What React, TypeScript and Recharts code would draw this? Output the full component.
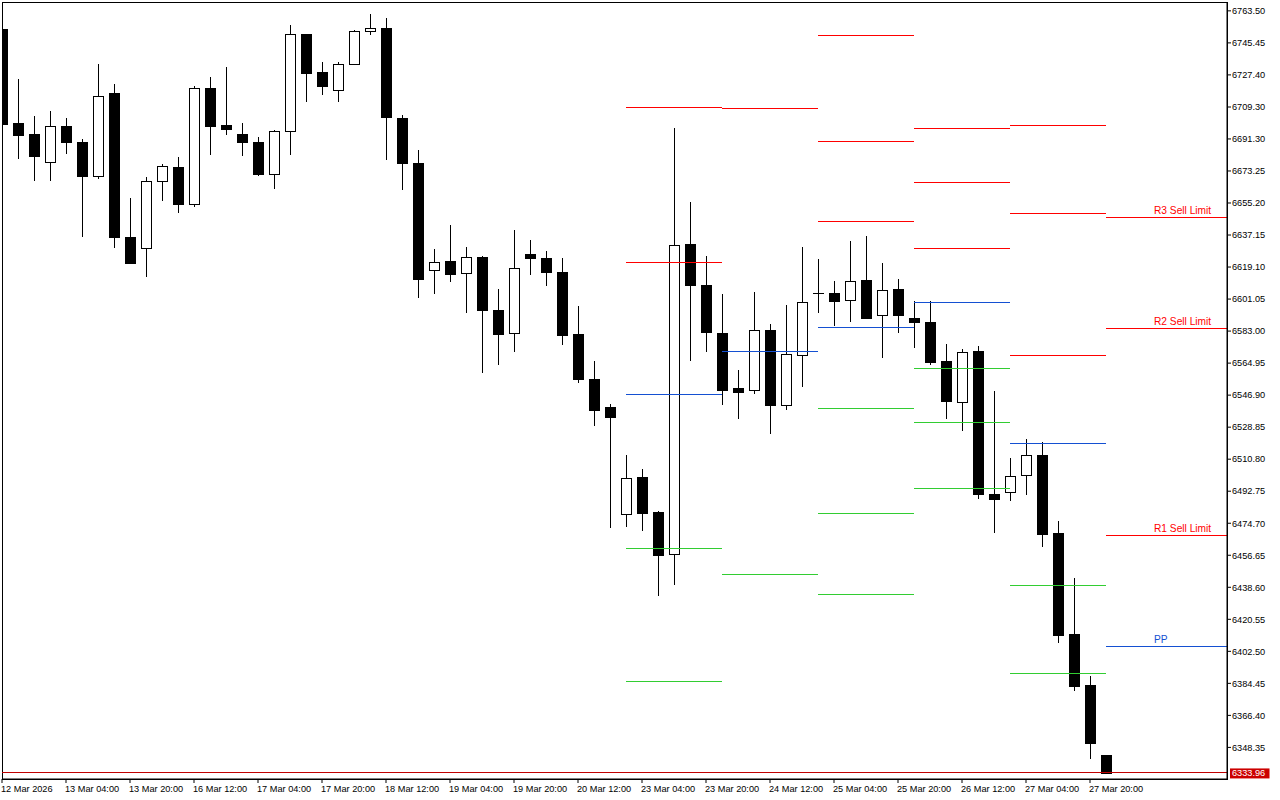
import { Bar, ComposedChart, ReferenceArea, ReferenceLine, XAxis, YAxis } from "recharts";

const FONT = '"Liberation Sans", Arial, sans-serif';
const RED = "#ff0000";
const BLUE = "#1450d2";
const GREEN = "#32cd32";
const PRICE_RED = "#c00000";

// H4 bars, oldest first (bar 0 is the half-hidden one at the left edge)
const opens = [
  6753.44, 6700.44, 6694.23, 6678.05, 6698.74, 6689.72, 6670.16, 6717.35, 6636.16, 6629.78,
  6667.34, 6675.63, 6654.37, 6720.17, 6699.31, 6694.23, 6689.72, 6671.51, 6695.75, 6750.62,
  6729.19, 6718.87, 6733.53, 6752.14, 6754.0, 6703.25, 6677.88, 6617.38, 6622.62, 6615.69,
  6624.88, 6594.82, 6581.85, 6626.57, 6624.31, 6616.42, 6581.46, 6556.09, 6540.3, 6479.8,
  6500.83, 6481.09, 6457.24, 6632.21, 6609.09, 6582.02, 6551.01, 6549.72, 6583.72, 6541.26,
  6569.45, 6604.58, 6604.58, 6600.46, 6611.74, 6592.01, 6606.67, 6590.48, 6588.06, 6566.07,
  6543.29, 6571.71, 6491.24, 6492.2, 6501.79, 6513.06, 6469.08, 6412.3, 6383.55, 6344.08,
];
const highs = [
  6753.44, 6725.25, 6704.38, 6707.2, 6703.25, 6691.41, 6733.7, 6722.43, 6658.15, 6669.99,
  6676.92, 6681.26, 6721.3, 6726.37, 6732.01, 6700.44, 6692.54, 6696.49, 6755.69, 6750.62,
  6734.83, 6734.83, 6752.87, 6761.9, 6759.64, 6704.95, 6685.21, 6629.39, 6642.92, 6630.52,
  6625.44, 6606.83, 6640.1, 6634.46, 6628.26, 6624.31, 6597.25, 6566.24, 6541.99, 6513.23,
  6505.34, 6481.66, 6697.62, 6655.89, 6625.44, 6604.02, 6561.33, 6605.14, 6587.1, 6597.81,
  6630.52, 6623.75, 6611.35, 6633.9, 6636.72, 6621.49, 6612.47, 6600.07, 6600.07, 6575.82,
  6573.0, 6574.69, 6549.32, 6511.54, 6522.26, 6520.39, 6476.02, 6443.88, 6388.79, 6344.08,
];
const lows = [
  6699.48, 6680.3, 6667.9, 6667.9, 6683.12, 6636.32, 6669.03, 6630.12, 6621.1, 6614.33,
  6656.62, 6649.86, 6653.24, 6682.56, 6693.84, 6682.0, 6670.72, 6663.39, 6682.56, 6712.45,
  6716.39, 6712.45, 6733.53, 6750.22, 6679.74, 6662.83, 6602.49, 6604.75, 6611.51, 6594.03,
  6560.2, 6564.71, 6572.04, 6614.9, 6609.26, 6575.99, 6554.56, 6530.32, 6472.81, 6473.37,
  6471.11, 6434.46, 6440.66, 6566.97, 6572.04, 6542.16, 6534.27, 6548.36, 6525.64, 6539.34,
  6552.31, 6594.03, 6586.7, 6588.96, 6590.65, 6568.66, 6582.76, 6574.3, 6564.71, 6534.27,
  6527.5, 6489.16, 6469.99, 6487.58, 6491.41, 6462.09, 6407.62, 6380.89, 6342.55, 6333.96,
];
const closes = [
  6699.48, 6693.27, 6681.43, 6698.74, 6689.33, 6670.16, 6715.49, 6635.76, 6621.66, 6667.73,
  6676.19, 6654.37, 6720.17, 6698.74, 6696.66, 6689.33, 6671.28, 6695.92, 6750.62, 6728.23,
  6720.9, 6733.7, 6752.31, 6753.83, 6703.42, 6677.49, 6612.64, 6621.89, 6614.9, 6624.71,
  6595.16, 6581.63, 6618.5, 6623.92, 6616.03, 6581.07, 6556.26, 6538.78, 6534.83, 6500.1,
  6480.7, 6457.02, 6631.48, 6608.7, 6582.76, 6550.05, 6548.93, 6583.72, 6541.6, 6570.01,
  6599.33, 6604.58, 6599.68, 6611.18, 6590.65, 6606.1, 6592.34, 6588.39, 6565.84, 6543.85,
  6571.14, 6491.41, 6488.59, 6501.11, 6513.06, 6468.86, 6411.91, 6383.15, 6351.01, 6333.96,
];

const xTickBars = [0, 4, 8, 12, 16, 20, 24, 28, 32, 36, 40, 44, 48, 52, 56, 60, 64, 68];
const xTickLabels = [
  "12 Mar 2026", "13 Mar 04:00", "13 Mar 20:00", "16 Mar 12:00", "17 Mar 04:00", "17 Mar 20:00",
  "18 Mar 12:00", "19 Mar 04:00", "19 Mar 20:00", "20 Mar 12:00", "23 Mar 04:00", "23 Mar 20:00",
  "24 Mar 12:00", "25 Mar 04:00", "25 Mar 20:00", "26 Mar 12:00", "27 Mar 04:00", "27 Mar 20:00",
];

const yTicks = [
  6763.5, 6745.45, 6727.4, 6709.3, 6691.3, 6673.25, 6655.2, 6637.15, 6619.1, 6601.05, 6583.0, 6564.95,
  6546.9, 6528.85, 6510.8, 6492.75, 6474.7, 6456.65, 6438.6, 6420.55, 6402.5, 6384.45, 6366.4, 6348.35,
];

// daily pivot levels, one column per day (bar where the day starts / ends)
const dayStart = [39, 45, 51, 57, 63, 69];
const dayEnd = [45, 51, 57, 63, 69, 76.5625];
const r3 = [null, null, 6749.88, 6697.44, 6699.14, 6647.26];
const r2 = [6709.28, null, 6690.11, 6667.0, 6649.52, 6584.67];
const r1 = [6621.89, 6708.72, 6645.0, 6629.78, 6569.45, 6467.95];
const pp = [6547.46, 6571.7, 6585.24, 6599.33, 6519.83, 6405.37];
const s1 = [6460.62, 6445.96, 6539.56, 6562.12, 6439.76, null];
const s2 = [6385.63, null, 6480.36, 6531.67, 6390.14, null];
const s3 = [null, null, 6434.69, 6494.45, null, null];
const todayLabels: Record<string, string> = {
  R3: "R3 Sell Limit",
  R2: "R2 Sell Limit",
  R1: "R1 Sell Limit",
  PP: "PP",
};

const lastPrice = 6333.96;

const X_DOMAIN: [number, number] = [0, 76.5625];
const Y_DOMAIN: [number, number] = [6330.54, 6768.49];

const candles = opens.map((open, i) => ({
  bar: i,
  open,
  high: highs[i],
  low: lows[i],
  close: closes[i],
}));

const levels = [
  { name: "R3", color: RED, values: r3 },
  { name: "R2", color: RED, values: r2 },
  { name: "R1", color: RED, values: r1 },
  { name: "PP", color: BLUE, values: pp },
  { name: "S1", color: GREEN, values: s1 },
  { name: "S2", color: GREEN, values: s2 },
  { name: "S3", color: GREEN, values: s3 },
];

const segments = levels.flatMap((lv) =>
  lv.values.map((v, d) => ({
    key: `${lv.name}-${d}`,
    name: lv.name,
    color: lv.color,
    value: v,
    from: dayStart[d],
    to: dayEnd[d],
    today: d === dayStart.length - 1,
  })),
).filter((s) => s.value != null);

function Candle(props: any) {
  const { x, y, width, height, payload } = props;
  if (!payload) return null;
  const { open, high, low, close } = payload;
  const top = Math.min(y, y + height);
  const h = Math.abs(height);
  const toY = (v: number) => (high === low ? top : top + ((high - v) / (high - low)) * h);
  const cx = Math.round(x + width / 2);
  const yHigh = Math.round(toY(high));
  const yLow = Math.round(toY(low));
  const yOpen = Math.round(toY(open));
  const yClose = Math.round(toY(close));
  const bodyTop = Math.min(yOpen, yClose);
  const bodyBottom = Math.max(yOpen, yClose);
  const up = close > open;
  return (
    <g shapeRendering="crispEdges">
      <rect x={cx} y={yHigh} width={1} height={Math.max(1, yLow - yHigh + 1)} fill="#000" />
      {up ? (
        <rect x={cx - 4.5} y={bodyTop + 0.5} width={10} height={bodyBottom - bodyTop} fill="#fff" stroke="#000" />
      ) : (
        <rect x={cx - 5} y={bodyTop} width={11} height={Math.max(1, bodyBottom - bodyTop + 1)} fill="#000" />
      )}
    </g>
  );
}

function TimeTick({ x, y, payload }: any) {
  const i = xTickBars.indexOf(payload.value);
  return (
    <text x={x - 1} y={y} dy="0.71em" textAnchor="start" fill="#000" fontSize={9.2} fontFamily={FONT}>
      {xTickLabels[i]}
    </text>
  );
}

function levelLabel(text: string, color: string) {
  return (p: any) => {
    const vb = p.viewBox;
    return (
      <text x={vb.x + 48} y={vb.y - 3.5} fill={color} fontSize={10.2} fontFamily={FONT}>
        {text}
      </text>
    );
  };
}

function priceTag(p: any) {
  const vb = p.viewBox;
  const left = vb.x + vb.width + 3;
  return (
    <g>
      <rect x={left} y={vb.y - 4.5} width={39.5} height={10} fill="#cc0000" />
      <text x={left + 2} y={vb.y} dy="0.355em" fill="#fff" fontSize={9.2} fontFamily={FONT}>
        {lastPrice.toFixed(2)}
      </text>
    </g>
  );
}

export default function App() {
  return (
    <div style={{ position: "absolute", left: 0, top: 0, width: 1280, height: 800, background: "#fff" }}>
      <ComposedChart
        width={1280}
        height={800}
        data={candles}
        margin={{ top: 2, right: 0, bottom: 0, left: 2 }}
      >
        <XAxis
          type="number"
          dataKey="bar"
          domain={X_DOMAIN}
          allowDataOverflow
          ticks={xTickBars}
          interval={0}
          height={21}
          tickSize={4}
          tickMargin={2}
          axisLine={{ stroke: "#000" }}
          tickLine={{ stroke: "#000" }}
          tick={<TimeTick />}
        />
        <YAxis
          orientation="right"
          type="number"
          domain={Y_DOMAIN}
          allowDataOverflow
          ticks={yTicks}
          interval={0}
          width={53}
          tickSize={4}
          tickMargin={1}
          axisLine={{ stroke: "#000" }}
          tickLine={{ stroke: "#000" }}
          tickFormatter={(v: number) => v.toFixed(2)}
          tick={{ fill: "#000", fontSize: 9.2, fontFamily: FONT }}
        />
        <ReferenceArea
          x1={X_DOMAIN[0]}
          x2={X_DOMAIN[1]}
          y1={Y_DOMAIN[0]}
          y2={Y_DOMAIN[1]}
          fill="none"
          stroke="#000"
          fillOpacity={0}
          shapeRendering="crispEdges"
          ifOverflow="visible"
        />
        {segments.map((s) => (
          <ReferenceLine
            key={s.key}
            segment={[
              { x: s.from, y: s.value as number },
              { x: s.to, y: s.value as number },
            ]}
            stroke={s.color}
            strokeWidth={1}
            shapeRendering="crispEdges"
            label={s.today && todayLabels[s.name] ? levelLabel(todayLabels[s.name], s.color) : undefined}
          />
        ))}
        <ReferenceLine
          y={lastPrice}
          stroke={PRICE_RED}
          strokeWidth={1}
          shapeRendering="crispEdges"
          label={priceTag}
        />
        <Bar
          dataKey={(d: any) => [d.low, d.high]}
          barSize={11}
          shape={<Candle />}
          isAnimationActive={false}
        />
      </ComposedChart>
    </div>
  );
}
